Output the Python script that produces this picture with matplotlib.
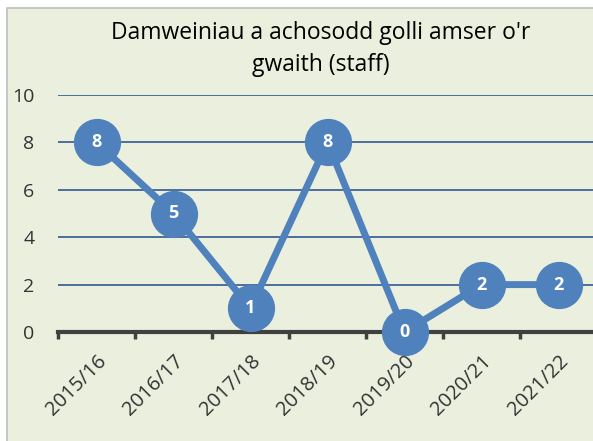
import matplotlib.pyplot as plt
from matplotlib.patches import Rectangle

years = ["2015/16", "2016/17", "2017/18", "2018/19", "2019/20", "2020/21", "2021/22"]
accidents = [8, 5, 1, 8, 0, 2, 2]
title = "Damweiniau a achosodd golli amser o'r\ngwaith (staff)"

blue = "#4F81BD"
bg = "#EBF0DE"

plt.rcParams['font.family'] = ['Open Sans', 'DejaVu Sans']

fig = plt.figure(figsize=(5.93, 4.41), dpi=100)
fig.patch.set_facecolor("white")
# chart area frame (right/bottom edges fall outside the image)
fig.patches.append(Rectangle((7 / 593, -0.1), 1.2, 1.1 - 8 / 441, transform=fig.transFigure,
                             facecolor=bg, edgecolor="#BFBFBF", linewidth=1.2, zorder=-1))

ax = fig.add_axes([58 / 593, 109 / 441, 539 / 593, 237 / 441])
ax.set_facecolor("none")

x = list(range(len(years)))
ax.plot(x, accidents, color=blue, linewidth=5, marker="o", markersize=33,
        markerfacecolor=blue, markeredgecolor=blue, clip_on=False, zorder=3)
for xi, v in zip(x, accidents):
    ax.text(xi, v, str(v), color="white", fontsize=13, fontweight="bold",
            ha="center", va="center", zorder=4)

ax.set_xlim(-0.5, len(years) - 0.5)
ax.set_ylim(0, 10)
ax.set_yticks(range(0, 11, 2))
for y in range(2, 11, 2):
    ax.axhline(y, color="#3F6497", linewidth=1.3, zorder=1)

ax.set_xticks([i - 0.5 for i in range(len(years) + 1)])
ax.set_xticklabels([])
ax.set_xticks(x, minor=True)
ax.set_xticklabels(years, minor=True, rotation=45, ha="right", rotation_mode="anchor",
                   fontsize=14.5, color="#333333")
ax.tick_params(axis="x", which="minor", length=0, pad=14)
ax.tick_params(axis="x", which="major", length=5, width=2.5, color="#404040", direction="out")
ax.tick_params(axis="y", length=0, labelsize=14, labelcolor="#333333", pad=17)

for s in ["top", "right", "left"]:
    ax.spines[s].set_visible(False)
ax.spines["bottom"].set_color("#404040")
ax.spines["bottom"].set_linewidth(3)
ax.spines["bottom"].set_zorder(2)

fig.text(0.541, 1 - 49 / 441, title, ha="center", va="center", fontsize=16.5,
         color="black", linespacing=1.4)

fig.savefig("out.png", dpi=100)
